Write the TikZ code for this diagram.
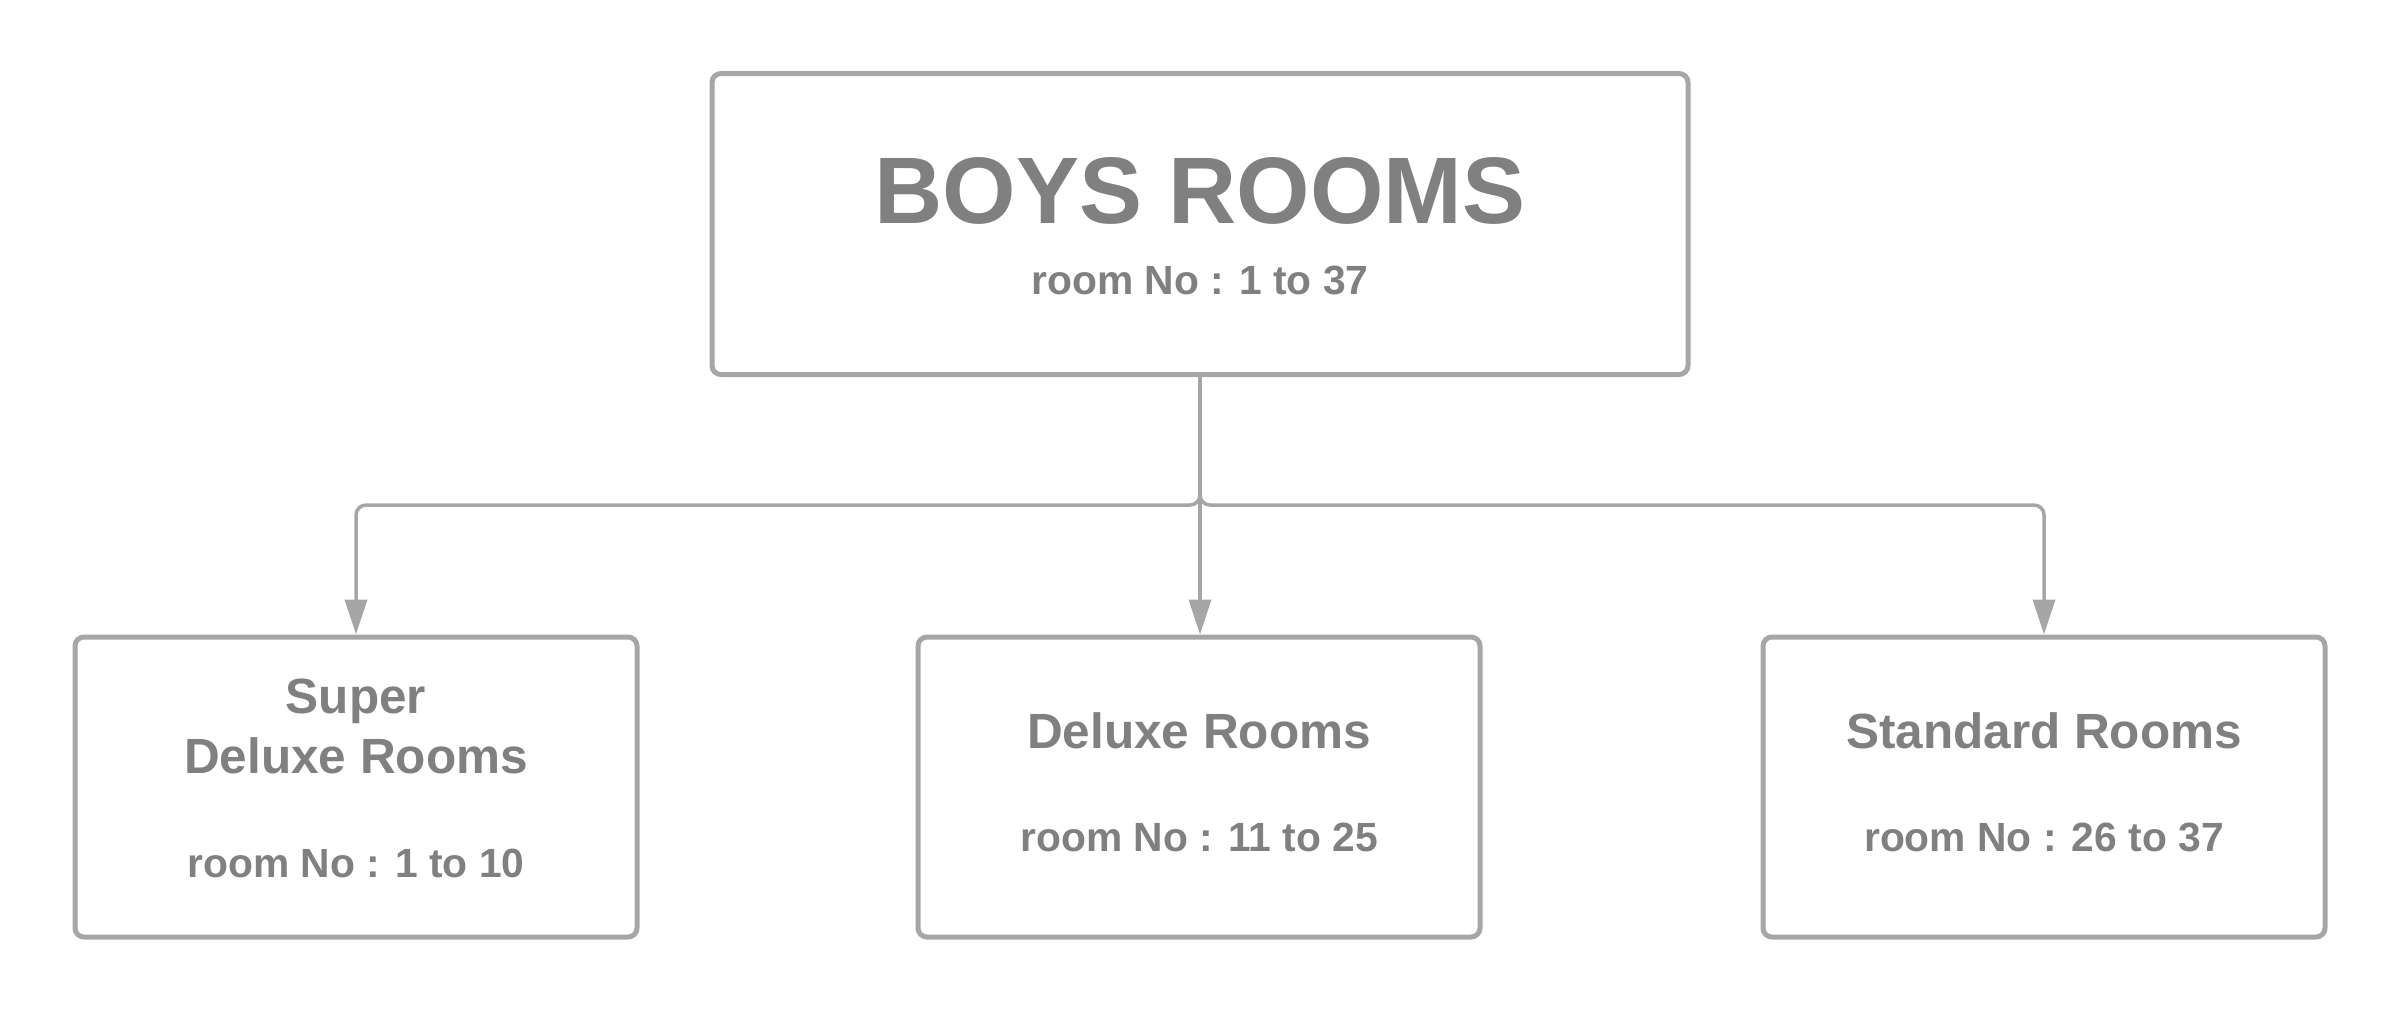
\documentclass[tikz,border=0pt]{standalone}
\usepackage{fontspec}
\setmainfont{Liberation Sans}
\usetikzlibrary{arrows.meta}
\definecolor{txtgray}{HTML}{808080}
\definecolor{linegray}{HTML}{A6A6A6}
\tikzset{
  roombox/.style={draw=linegray, line width=5pt, rounded corners=9pt, fill=white,
    minimum width=562pt, minimum height=300pt, inner sep=0pt},
  topbox/.style={roombox, minimum width=976pt, minimum height=301pt},
  title/.style={text=txtgray, font=\bfseries\fontsize{49.5}{58}\selectfont, anchor=base, inner sep=0pt},
  bigtitle/.style={text=txtgray, font=\bfseries\fontsize{94.5}{110}\selectfont, anchor=base, inner sep=0pt},
  sub/.style={text=txtgray, font=\bfseries\fontsize{40.8}{48}\selectfont, anchor=base, inner sep=0pt},
  conn/.style={draw=linegray, line width=3.5pt, rounded corners=10pt,
    -{Triangle[length=35pt,width=22pt]}},
}
\begin{document}
\begin{tikzpicture}[x=1pt,y=-1pt]
\useasboundingbox (0,0) rectangle (2400,1013);
\node[topbox] (top) at (1200,224) {};
\node[roombox] (left) at (356,787) {};
\node[roombox] (mid) at (1199,787) {};
\node[roombox] (right) at (2044,787) {};

\node[bigtitle] (topt) at (1200,223) {BOYS ROOMS};
\node[sub] (tops) at (1200,294) {room No : 1 to 37};

\node[title] (lt1) at (356,713) {Super};
\node[title] (lt2) at (356,773) {Deluxe Rooms};
\node[sub] (ls) at (356,877) {room No : 1 to 10};

\node[title] (mt) at (1199,748) {Deluxe Rooms};
\node[sub] (ms) at (1199,851) {room No : 11 to 25};

\node[title] (rt) at (2044,748) {Standard Rooms};
\node[sub] (rs) at (2044,851) {room No : 26 to 37};

\coordinate (split) at (1200,505);
\draw[conn] (top.south) -- (split) -| (left.north);
\draw[conn] (top.south) -- (split) -| (right.north);
\draw[conn] (top.south) -- (mid.north -| top.south);
\end{tikzpicture}
\end{document}
